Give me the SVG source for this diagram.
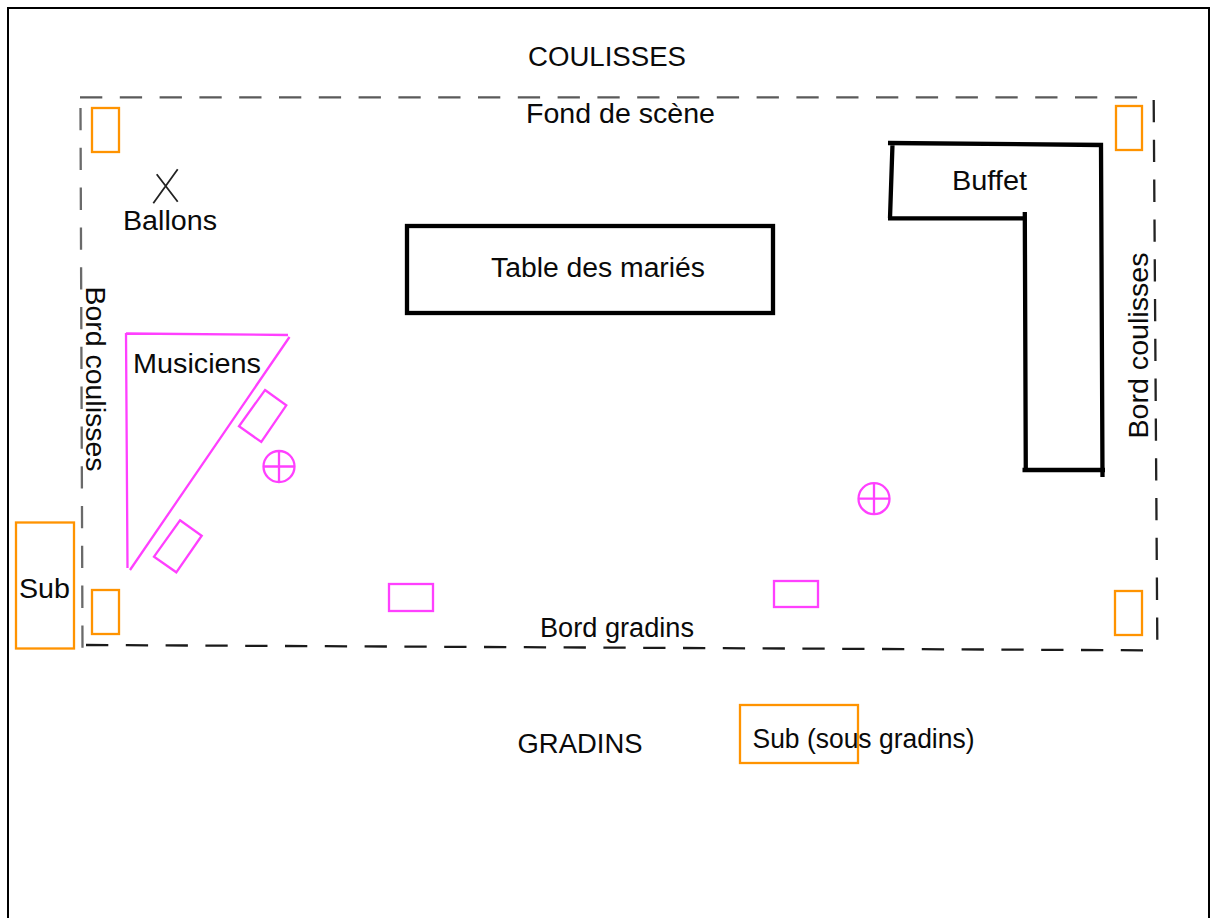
<svg xmlns="http://www.w3.org/2000/svg" width="1217" height="918" viewBox="0 0 1217 918">
<style>
text{font-family:"Liberation Sans",Arial,sans-serif;font-size:27px;fill:#0a0a0a}
.o{fill:none;stroke:#ff9300;stroke-width:2.300}
.m{fill:none;stroke:#ff40ff;stroke-width:2.300}
.k{fill:none;stroke:#000;stroke-width:4.300}
.d{fill:none;stroke-width:2.300;stroke-dasharray:22.3 17.5}
</style>
<rect width="1217" height="918" fill="#fff"/>
<path d="M8 918V8H1209V918" fill="none" stroke="#000" stroke-width="2"/>
<g id="stage">
<path class="d" stroke="#5a5a5a" d="M80 97.300H1138"/>
<path class="d" stroke="#6a6a6a" d="M80.500 108L82.500 648"/>
<path class="d" stroke="#222" d="M1153.700 100L1157.300 640"/>
<path class="d" stroke="#1a1a1a" d="M86 645L1143 650.300"/>
</g>
<g id="orange">
<rect class="o" x="92" y="108" width="27" height="44"/>
<rect class="o" x="1116" y="106" width="26" height="44"/>
<rect class="o" x="92" y="590" width="27" height="44"/>
<rect class="o" x="1115" y="591" width="27" height="44"/>
<rect class="o" x="16" y="522.500" width="58" height="126"/>
<rect class="o" x="740" y="705" width="118" height="58"/>
</g>
<g id="tables">
<rect class="k" x="407" y="226" width="366" height="87"/>
<path class="k" d="M888 143L1101 145L1102.500 477M892.500 144L890 218M888 218.300H1026M1024.800 212L1025.800 472M1022.500 470H1105"/>
</g>
<g id="musiciens">
<path class="m" d="M126 333.500L288 335M289.500 337L130 570M126 333L127.500 568"/>
<polygon class="m" points="265,390 286.300,405.300 261.300,442 239,426.300"/>
<polygon class="m" points="180,520.300 201.700,535.700 176.300,572.300 154,556.700"/>
<rect class="m" x="389" y="584" width="44" height="27"/>
<rect class="m" x="774" y="581" width="44" height="26"/>
<circle class="m" cx="279" cy="466.500" r="15.500"/><path class="m" d="M263.500 466.500H294.500M279 451V482"/>
<circle class="m" cx="874" cy="498.700" r="15.500"/><path class="m" d="M858.500 498.700H889.500M874 483.200V514.200"/>
</g>
<g id="ballons"><path d="M156.700 174.300L177.700 201.700M177.700 169.300L153.300 203.300" fill="none" stroke="#222" stroke-width="1.800"/></g>
<g id="labels">
<text x="528" y="66" textLength="158" lengthAdjust="spacingAndGlyphs">COULISSES</text>
<text x="526" y="122.700" textLength="189" lengthAdjust="spacingAndGlyphs">Fond de scène</text>
<text x="123" y="230" textLength="94" lengthAdjust="spacingAndGlyphs">Ballons</text>
<text x="491" y="276.500" textLength="214" lengthAdjust="spacingAndGlyphs">Table des mariés</text>
<text x="952" y="190" textLength="75" lengthAdjust="spacingAndGlyphs">Buffet</text>
<text x="133" y="372.700" textLength="128" lengthAdjust="spacingAndGlyphs">Musiciens</text>
<text x="19" y="597.700" textLength="51" lengthAdjust="spacingAndGlyphs">Sub</text>
<text x="540" y="636.700" textLength="154" lengthAdjust="spacingAndGlyphs">Bord gradins</text>
<text x="517.500" y="753.300" textLength="125" lengthAdjust="spacingAndGlyphs">GRADINS</text>
<text x="752.500" y="747.700" textLength="222" lengthAdjust="spacingAndGlyphs">Sub (sous gradins)</text>
<text transform="translate(86 286.500) rotate(90)" textLength="185" lengthAdjust="spacingAndGlyphs">Bord coulisses</text>
<text transform="translate(1148 438.500) rotate(-90)" textLength="186" lengthAdjust="spacingAndGlyphs">Bord coulisses</text>
</g>
</svg>
